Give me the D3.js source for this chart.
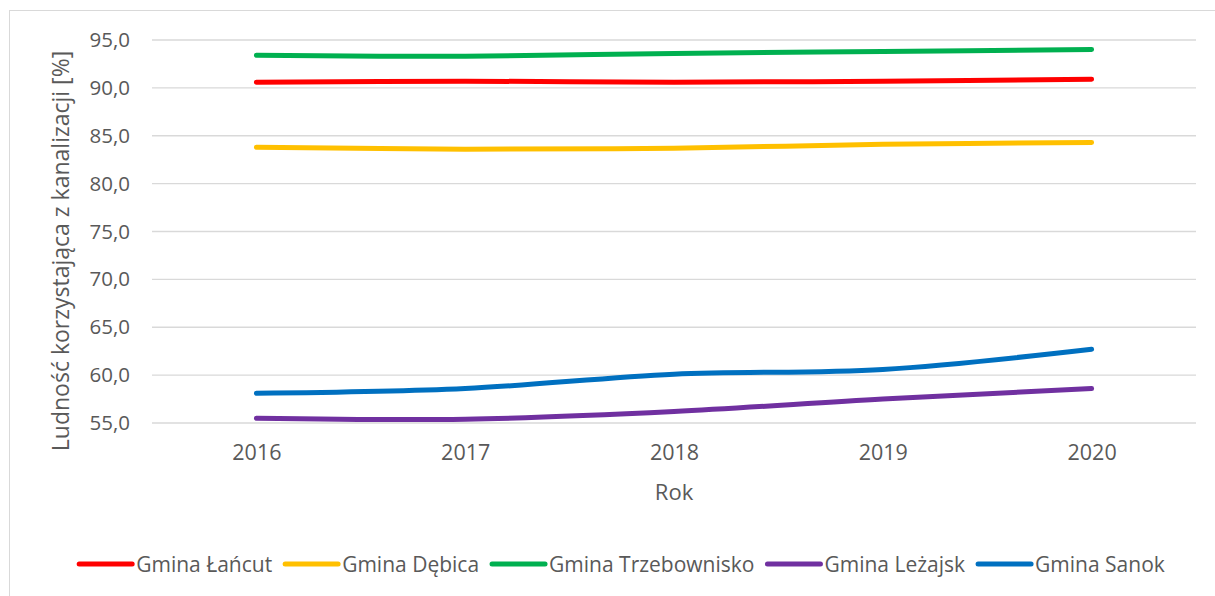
<!DOCTYPE html>
<html>
<head>
<meta charset="utf-8">
<script src="https://cdn.jsdelivr.net/npm/d3@7"></script>
<style>
  body { margin: 0; background: #fff; }
  svg text { font-family: "Open Sans", sans-serif; fill: #595959; }
</style>
</head>
<body>
<svg id="chart" width="1215" height="596"></svg>
<script>
// Chart data
const years = [2016, 2017, 2018, 2019, 2020];
const seriesNames = ["Gmina Łańcut", "Gmina Dębica", "Gmina Trzebownisko", "Gmina Leżajsk", "Gmina Sanok"];
const seriesColors = ["#FF0000", "#FFC000", "#00B050", "#7030A0", "#0070C0"];
const lancut = [90.6, 90.7, 90.6, 90.7, 90.9];
const debica = [83.8, 83.6, 83.7, 84.1, 84.3];
const trzebownisko = [93.4, 93.3, 93.6, 93.8, 94.0];
const lezajsk = [55.5, 55.4, 56.2, 57.5, 58.6];
const sanok = [58.1, 58.6, 60.1, 60.6, 62.7];
const yTicks = [55, 60, 65, 70, 75, 80, 85, 90, 95];

const allSeries = [lancut, debica, trzebownisko, lezajsk, sanok];

const svg = d3.select("#chart");
const plotLeft = 152, plotRight = 1196, plotTop = 40, plotBottom = 423;

// outer frame
svg.append("rect")
  .attr("x", 9.5).attr("y", 10.5)
  .attr("width", 1215).attr("height", 600)
  .attr("fill", "none").attr("stroke", "#D9D9D9");

const x = d3.scalePoint().domain(years).range([plotLeft, plotRight]).padding(0.5);
const y = d3.scaleLinear().domain([55, 95]).range([plotBottom, plotTop]);

// gridlines
svg.append("g")
  .selectAll("line")
  .data(yTicks)
  .join("line")
  .attr("x1", plotLeft).attr("x2", plotRight)
  .attr("y1", d => y(d)).attr("y2", d => y(d))
  .attr("stroke", "#D9D9D9").attr("stroke-width", 1.3);

// y axis labels
const fmt = v => d3.format(".1f")(v).replace(".", ",");
const yAxis = svg.append("g")
  .attr("transform", `translate(${plotLeft},0)`)
  .call(d3.axisLeft(y).tickValues(yTicks).tickFormat(fmt).tickSize(0).tickPadding(22));
yAxis.select(".domain").remove();
yAxis.selectAll("text").attr("font-size", 20.5).attr("fill", "#595959").attr("font-family", "Open Sans");

// x axis labels
const xAxis = svg.append("g")
  .attr("transform", `translate(0,${plotBottom})`)
  .call(d3.axisBottom(x).tickSize(0).tickPadding(22));
xAxis.select(".domain").remove();
xAxis.selectAll("text").attr("font-size", 21.5).attr("fill", "#595959").attr("font-family", "Open Sans");

// axis titles
svg.append("text")
  .attr("x", 674).attr("y", 500)
  .attr("text-anchor", "middle").attr("font-size", 22)
  .text("Rok");

svg.append("text")
  .attr("transform", "translate(69,251) rotate(-90)")
  .attr("text-anchor", "middle").attr("font-size", 23)
  .text("Ludność korzystająca z kanalizacji [%]");

// lines
const line = d3.line()
  .x((d, i) => x(years[i]))
  .y(d => y(d))
  .curve(d3.curveCatmullRom.alpha(0.5));

svg.append("g")
  .selectAll("path")
  .data(allSeries)
  .join("path")
  .attr("d", d => line(d))
  .attr("fill", "none")
  .attr("stroke", (d, i) => seriesColors[i])
  .attr("stroke-width", 5)
  .attr("stroke-linecap", "round")
  .attr("stroke-linejoin", "round");

// legend
const legend = svg.append("g");
let lx = 0;
seriesNames.forEach((name, i) => {
  const item = legend.append("g").attr("transform", `translate(${lx},0)`);
  item.append("line")
    .attr("x1", 2).attr("x2", 55)
    .attr("y1", 0).attr("y2", 0)
    .attr("stroke", seriesColors[i]).attr("stroke-width", 5)
    .attr("stroke-linecap", "round");
  const t = item.append("text")
    .attr("x", 59).attr("y", 7.5)
    .attr("font-size", 21)
    .text(name);
  lx += 59 + t.node().getComputedTextLength() + 11;
});
const legendWidth = lx - 11;
legend.attr("transform", `translate(${621 - legendWidth / 2},564)`);
</script>
</body>
</html>
